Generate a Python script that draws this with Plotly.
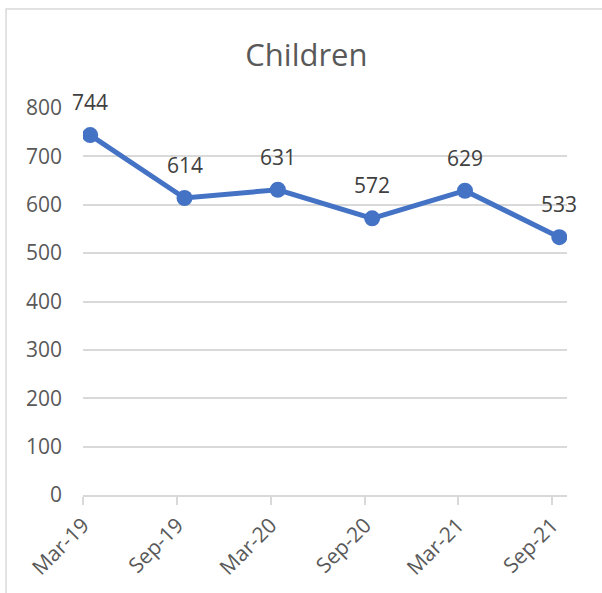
import plotly.graph_objects as go

# data
dates = ["2019-03-15", "2019-09-15", "2020-03-15", "2020-09-15", "2021-03-15", "2021-09-15"]
children = [744, 614, 631, 572, 629, 533]
tick_dates = ["2019-03-01", "2019-09-01", "2020-03-01", "2020-09-01", "2021-03-01", "2021-09-01"]
tick_labels = ["Mar-19", "Sep-19", "Mar-20", "Sep-20", "Mar-21", "Sep-21"]
y_ticks = [0, 100, 200, 300, 400, 500, 600, 700, 800]

blue = "#4472C4"
grid = "#D9D9D9"
font = "Open Sans"

fig = go.Figure()
fig.add_trace(go.Scatter(
    x=dates, y=children, mode="lines+markers",
    line=dict(color=blue, width=5),
    marker=dict(color=blue, size=16),
    hoverinfo="x+y", showlegend=False,
))

# data labels above points
for d, v in zip(dates, children):
    fig.add_annotation(x=d, y=v, text=str(v), showarrow=False,
                       yshift=33, yanchor="middle",
                       font=dict(family=font, size=21, color="#404040"))

# chart border
fig.add_shape(type="rect", xref="paper", yref="paper",
              x0=-0.159, x1=1.3, y0=-0.4, y1=1.256,
              line=dict(color=grid, width=1.5), layer="below")

fig.update_layout(
    width=602, height=593,
    margin=dict(l=83, r=35, t=108, b=98),
    paper_bgcolor="white", plot_bgcolor="white",
    title=dict(text="Children", x=0.509, xref="container", xanchor="center",
               y=1 - 55 / 593, yref="container", yanchor="middle",
               font=dict(family=font, size=31, color="#595959")),
    font=dict(family=font, size=21, color="#595959"),
)
fig.update_xaxes(
    type="date", range=["2019-03-01", "2021-09-30"],
    tickmode="array", tickvals=tick_dates, ticktext=tick_labels,
    tickangle=-45, ticks="outside", ticklen=8, tickcolor=grid, tickwidth=1.5,
    showline=True, linecolor=grid, linewidth=1.5, showgrid=False, zeroline=False,
    tickfont=dict(family=font, size=21, color="#595959"),
)
fig.update_yaxes(
    range=[0, 800], tickmode="array", tickvals=y_ticks,
    showgrid=True, gridcolor=grid, gridwidth=1.5, zeroline=False, showline=False,
    ticklabelstandoff=20,
    tickfont=dict(family=font, size=21, color="#595959"),
)

# drop the default body margin so the figure fills the window
fig.write_html("out.html", config={"displayModeBar": False},
               post_script="document.body.style.margin='0';document.body.style.overflow='hidden';")
